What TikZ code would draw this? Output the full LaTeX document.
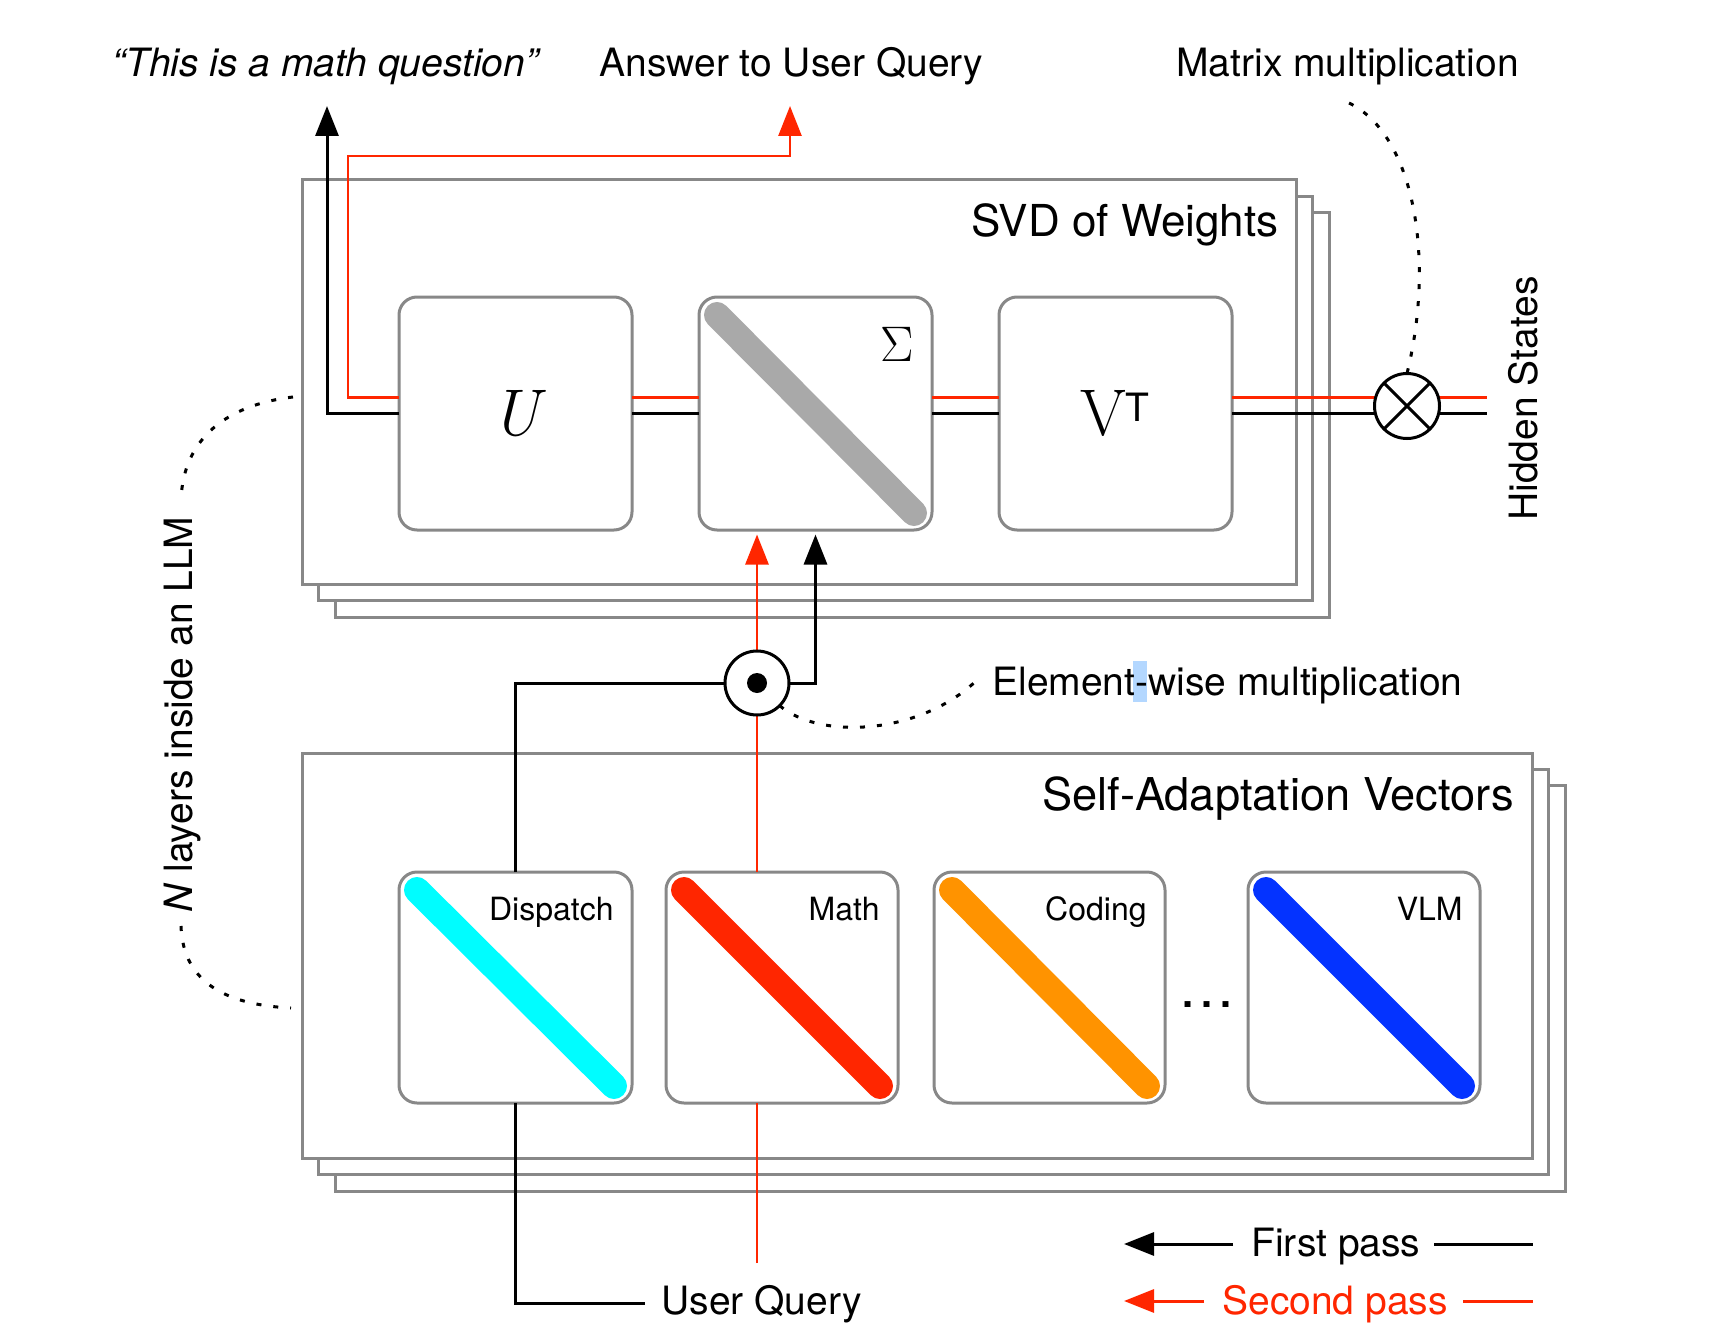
\documentclass[tikz,border=0pt]{standalone}
\usepackage{fontspec}
\setmainfont{TeX Gyre Heros}
\newfontfamily\lmr{Latin Modern Roman}
\usetikzlibrary{arrows.meta,fit}
\definecolor{myred}{RGB}{255,38,0}
\definecolor{mycyan}{RGB}{0,253,255}
\definecolor{myorange}{RGB}{255,147,0}
\definecolor{myblue}{RGB}{4,51,255}
\definecolor{mygrey}{RGB}{169,169,169}
\definecolor{boxgrey}{RGB}{136,136,136}
\definecolor{selblue}{RGB}{179,215,255}
\tikzset{
  layerbox/.style={draw=boxgrey, line width=1.5pt, fill=white, inner sep=0pt, outer sep=0pt},
  matbox/.style={draw=boxgrey, line width=1.5pt, fill=white, rounded corners=9pt, inner sep=0pt, outer sep=0pt},
  stripehalo/.style={draw=white, line width=15pt, line cap=round},
  stripe/.style={draw=#1, line width=13pt, line cap=round},
  blk/.style={draw=black, line width=1.5pt},
  rdl/.style={draw=myred, line width=1.35pt},
  tip/.style={-{Triangle[width=11.5pt,length=15pt]}},
  maintext/.style={inner sep=0pt, font=\fontsize{19.5}{23}\selectfont},
  titletext/.style={inner sep=0pt, font=\fontsize{22}{26}\selectfont},
  veclabel/.style={inner sep=0pt, font=\fontsize{16}{19}\selectfont, anchor=base east},
  dotline/.style={draw=black, line width=1.5pt, dash pattern=on 2.5pt off 6pt},
  opcircle/.style={circle, draw=black, line width=1.5pt, fill=white, minimum size=32.5pt, inner sep=0pt, outer sep=0pt},
}
\begin{document}
\begin{tikzpicture}[x=0.5pt,y=-0.5pt]
\useasboundingbox (0,0) rectangle (1714,1338);
\fill[white] (0,0) rectangle (1714,1338);

% SVD layers
\node[layerbox, fit={(335,212) (1329,617)}] (svdC) {};
\node[layerbox, fit={(318.5,196) (1312.5,600)}] (svdB) {};
\node[layerbox, fit={(302,180) (1296,584)}] (svdA) {};
% Self-adaptation layers
\node[layerbox, fit={(335,785) (1565,1191)}] (saC) {};
\node[layerbox, fit={(318.5,769) (1548.5,1174.5)}] (saB) {};
\node[layerbox, fit={(302,753) (1532,1158)}] (saA) {};

% matrix boxes
\node[matbox, fit={(399,297) (632,530)}] (U) {};
\node[matbox, fit={(699,297) (932,530)}] (S) {};
\node[matbox, fit={(999,297) (1232,530)}] (V) {};
% vector boxes
\node[matbox, fit={(399,872) (632,1103)}] (D) {};
\node[matbox, fit={(666,872) (898,1103)}] (M) {};
\node[matbox, fit={(934,872) (1165,1103)}] (C) {};
\node[matbox, fit={(1248,872) (1480,1103)}] (L) {};

% stripes
\foreach \b/\c in {S/mygrey, D/mycyan, M/myred, C/myorange, L/myblue}{
  \draw[stripehalo] ([shift={(18,18)}]\b.north west) -- ([shift={(-18,-17)}]\b.south east);
  \draw[stripe=\c] ([shift={(18,18)}]\b.north west) -- ([shift={(-18,-17)}]\b.south east);
}

% matrix labels
\node[inner sep=0pt, anchor=base, font=\fontsize{33}{33}\selectfont\lmr\itshape] (Ut) at (515.5,435) {U};
\node[inner sep=0pt, anchor=base, font=\fontsize{25}{25}\selectfont\lmr] (St) at (897.5,361) {Σ};
\node[inner sep=0pt, anchor=base, font=\fontsize{33}{33}\selectfont] (Vt) at (1115,435) {{\lmr V}\raisebox{7pt}{\fontsize{19.5}{19.5}\selectfont T}};

% vector labels
\node[veclabel] (Dt) at (614,920) {Dispatch};
\node[veclabel] (Mt) at (880,920) {Math};
\node[veclabel] (Ct) at (1147,920) {Coding};
\node[veclabel] (Lt) at (1463,920) {VLM};
\node[inner sep=0pt, anchor=base, font=\fontsize{28.5}{30}\selectfont] (dots) at (1207,1007) {…};

% titles
\node[titletext, anchor=base east] (svdt) at (1279,236) {SVD of Weights};
\node[titletext, anchor=base east, font=\fontsize{22.6}{26}\selectfont] (sat) at (1514,810) {Self-Adaptation Vectors};

% coordinates
\coordinate (qtip) at (327,106);
\coordinate (rbend) at (348,156);
\coordinate (atip) at (790,106);
\coordinate (hsb) at (1487,413.5);
\coordinate (hsr) at (1487,397.5);
\coordinate (emc) at (757,683);
\coordinate (uqr) at (757,1263);
\coordinate (uqb) at (645,1303);

% top outputs
\draw[blk, tip] (U.west) -| (qtip);
\draw[rdl, tip] ([yshift=8pt]U.west) -| (rbend) -| (atip);

% between boxes
\draw[blk] (U.east) -- (S.west);
\draw[rdl] ([yshift=8pt]U.east) -- ([yshift=8pt]S.west);
\draw[blk] (S.east) -- (V.west);
\draw[rdl] ([yshift=8pt]S.east) -- ([yshift=8pt]V.west);
\draw[blk] (V.east) -- (hsb);
\draw[rdl] ([yshift=8pt]V.east) -- (hsr);

% red through element-wise
\draw[rdl, tip, shorten >=2.25pt] (emc |- M.north) -- (emc |- S.south);
\draw[rdl] (uqr) -- (emc |- M.south);
\draw[blk] (D.south) |- (uqb);

% operator circles
\node[opcircle] (mm) at (1407,406) {};
\draw[line width=1.5pt] (mm.north west) -- (mm.south east) (mm.north east) -- (mm.south west);
\node[opcircle, minimum size=32pt] (em) at (emc) {};
\fill[black] (em.center) circle (10);
\draw[blk] (D.north) |- (em.west);
\draw[blk, tip, shorten >=2.25pt] (em.east) -| (S.south);

% dotted annotations
\draw[dotline] (293,397) .. controls (225,405) and (183,440) .. (181,500);
\draw[dotline] (181,926) .. controls (183,985) and (230,1005) .. (291,1008);
\draw[dotline] (1349,103) .. controls (1415,135) and (1435,260) .. (mm.north);
\draw[dotline] (em.south east) .. controls (820,740) and (920,735) .. (977,680);

% texts
\node[inner sep=0pt, anchor=base west, font=\fontsize{19.5}{23}\selectfont\itshape] (q1) at (112,77) {“This is a math question”};
\node[maintext, anchor=base west] (ans) at (599,77) {Answer to User Query};
\node[maintext, anchor=base west] (mmt) at (1176,77) {Matrix multiplication};
\fill[selblue] (1133,661) rectangle (1147,702);
\node[maintext, anchor=base west] (ewt) at (992,695) {Element-wise multiplication};
\node[maintext, anchor=base west] (uqt) at (661,1314) {User Query};
\node[maintext, rotate=90, anchor=base] (nl) at (192,714.5) {\textit{N} layers inside an LLM};
\node[maintext, rotate=90, anchor=base] (hs) at (1537,398.5) {Hidden States};

% legend
\coordinate (fpa) at (1233,1244);
\coordinate (fpz) at (1124,1244);
\coordinate (fpb) at (1434,1244);
\coordinate (fpc) at (1533,1244);
\coordinate (spa) at (1204,1301);
\coordinate (spz) at (1124,1301);
\coordinate (spb) at (1463,1301);
\coordinate (spc) at (1533,1301);
\draw[blk, tip] (fpa) -- (fpz);
\draw[blk] (fpb) -- (fpc);
\draw[rdl, line width=1.5pt, tip] (spa) -- (spz);
\draw[rdl, line width=1.5pt] (spb) -- (spc);
\node[maintext, anchor=base west] (fpt) at (1251,1256) {First pass};
\node[maintext, anchor=base west, text=myred] (spt) at (1222,1314) {Second pass};
\end{tikzpicture}
\end{document}
